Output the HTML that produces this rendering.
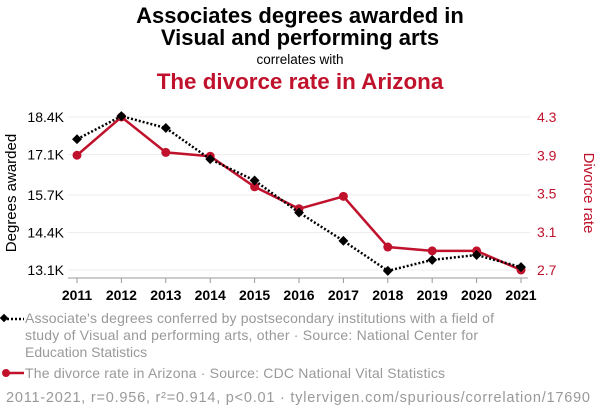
<!DOCTYPE html>
<html><head><meta charset="utf-8"><style>
body{margin:0;background:#fff;font-family:"Liberation Sans",sans-serif;}
svg{display:block}
</style></head><body>
<svg id="c" width="600" height="414" xmlns="http://www.w3.org/2000/svg">
<text x="300" y="23" text-anchor="middle" font-size="22" font-weight="bold" fill="#000">Associates degrees awarded in</text>
<text x="300" y="45" text-anchor="middle" font-size="22" font-weight="bold" fill="#000">Visual and performing arts</text>
<text x="300" y="64" text-anchor="middle" font-size="13.5" fill="#000">correlates with</text>
<text x="300" y="89" text-anchor="middle" font-size="22.4" font-weight="bold" fill="#c0122c">The divorce rate in Arizona</text>
<text transform="translate(16,193) rotate(-90)" text-anchor="middle" font-size="15" fill="#000">Degrees awarded</text>
<text transform="translate(584,193) rotate(90)" text-anchor="middle" font-size="15" fill="#c0122c">Divorce rate</text>
<g id="grid"></g><g id="axes"></g><g id="marks"></g>
<g>
<line x1="3" y1="319" x2="24" y2="319" stroke="#000" stroke-width="2.5" stroke-dasharray="2,2"/>
<rect x="1" y="315" width="6" height="6" transform="rotate(45 4 318)" fill="#000"/>
<text x="25" y="323" font-size="14" fill="#999" textLength="469">Associate's degrees conferred by postsecondary institutions with a field of</text>
<text x="25" y="340" font-size="14" fill="#999" textLength="453">study of Visual and performing arts, other · Source: National Center for</text>
<text x="25" y="357" font-size="14" fill="#999">Education Statistics</text>
<line x1="3" y1="373" x2="24" y2="373" stroke="#c0122c" stroke-width="2.5"/>
<circle cx="6" cy="373" r="4" fill="#c0122c"/>
<text x="25" y="378" font-size="14" fill="#999" textLength="420">The divorce rate in Arizona · Source: CDC National Vital Statistics</text>
<text x="6" y="402" font-size="14.5" fill="#999" textLength="584">2011-2021, r=0.956, r²=0.914, p&lt;0.01 · tylervigen.com/spurious/correlation/17690</text>
</g>
</svg>
<script>
const years=[2011,2012,2013,2014,2015,2016,2017,2018,2019,2020,2021];
const degrees=[17.63,18.43,18.02,16.94,16.20,15.09,14.11,13.07,13.45,13.62,13.20];
const divorce=[3.90,4.30,3.93,3.89,3.57,3.34,3.47,2.94,2.90,2.90,2.70];
const leftTicks=[18.4,17.1,15.7,14.4,13.1];
const leftLabels=["18.4K","17.1K","15.7K","14.4K","13.1K"];
const rightTicks=[4.3,3.9,3.5,3.1,2.7];
const NS="http://www.w3.org/2000/svg";
const x=y=>77+(y-2011)*(521-77)/10;
const yL=v=>117+(18.4-v)*(270-117)/(18.4-13.1);
const yR=v=>117+(4.3-v)*(270-117)/(4.3-2.7);
function mk(t,a,p){const e=document.createElementNS(NS,t);for(const k in a)e.setAttribute(k,a[k]);p.appendChild(e);return e;}
const grid=document.getElementById('grid'),axes=document.getElementById('axes'),marks=document.getElementById('marks');
leftTicks.forEach((v,i)=>{
 const g=mk('line',{x1:68,x2:530,y1:yL(v),y2:yL(v),stroke:'#eee','stroke-width':1},grid);
 
 
 const t=mk('text',{x:64,y:yL(v)+5,'text-anchor':'end','font-size':14,fill:'#000'},axes);
 t.textContent=leftLabels[i];
 
 
});
rightTicks.forEach(v=>{
 const t=mk('text',{x:537,y:yR(v)+5,'font-size':14,fill:'#c0122c'},axes);
 t.textContent=v.toFixed(1);
 
 
});
const ax=mk('line',{x1:68,x2:528,y1:278,y2:278,stroke:'#999','stroke-width':1},axes);


years.forEach(yr=>{
 mk('line',{x1:x(yr),x2:x(yr),y1:278,y2:283,stroke:'#999'},axes);
 const t=mk('text',{x:x(yr),y:300,'text-anchor':'middle','font-size':14,'font-weight':'bold',fill:'#000'},axes);
 t.textContent=yr;
 
 
});
const rl=mk('polyline',{points:years.map((yr,i)=>x(yr)+','+yR(divorce[i])).join(' '),fill:'none',stroke:'#c0122c','stroke-width':2.5},marks);


years.forEach((yr,i)=>{
 const c=mk('circle',{cx:x(yr),cy:yR(divorce[i]),r:4.5,fill:'#c0122c'},marks);
 
 
});
const bl=mk('polyline',{points:years.map((yr,i)=>x(yr)+','+yL(degrees[i])).join(' '),fill:'none',stroke:'#000','stroke-width':2.5,'stroke-dasharray':'2,2'},marks);


years.forEach((yr,i)=>{
 const cx=x(yr),cy=yL(degrees[i]);
 const d=mk('rect',{x:cx-3.5,y:cy-3.5,width:7,height:7,fill:'#000',transform:`rotate(45 ${cx} ${cy})`},marks);
 
 
});
</script>
</body></html>
